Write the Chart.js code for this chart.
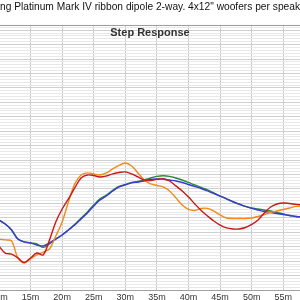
<!DOCTYPE html>
<html>
<head>
<meta charset="utf-8">
<script src="https://cdn.jsdelivr.net/npm/chart.js@4.4.1/dist/chart.umd.min.js"></script>
<style>
html,body{margin:0;padding:0;background:#fff;overflow:hidden;}
canvas{display:block;}
</style>
</head>
<body>
<canvas id="c" width="300" height="300"></canvas>
<script>
// time in ms
const times = [10,11,12,13,14,15,16,17,18,19,20,21,22,23,24,25,26,27,28,29,30,31,32,33,34,35,36,37,38,39,40,41,42,43,44,45,46,47,48,49,50,51,52,53,54,55,56,57,58];
const blueSeries = [4.85,4.57,4.16,3.53,3.33,3.26,3.12,3.05,3.26,3.53,3.81,4.16,4.50,4.92,5.34,5.82,6.24,6.51,6.86,7.14,7.28,7.42,7.48,7.55,7.66,7.69,7.69,7.62,7.55,7.45,7.31,7.17,7.03,6.86,6.69,6.51,6.31,6.13,5.96,5.79,5.65,5.54,5.44,5.37,5.30,5.23,5.16,5.09,5.06];
const greenSeries = [4.85,4.57,4.16,3.53,3.33,3.26,3.19,2.95,3.19,3.53,3.81,4.16,4.55,4.98,5.41,5.89,6.31,6.58,6.90,7.17,7.31,7.45,7.52,7.62,7.76,7.87,7.91,7.87,7.76,7.62,7.45,7.28,7.10,6.93,6.72,6.51,6.31,6.10,5.93,5.79,5.68,5.61,5.54,5.47,5.37,5.27,5.16,5.09,5.06];
const redSeries = [3.05,2.56,2.49,2.22,1.91,2.22,2.56,2.43,3.47,4.71,5.61,6.31,7.07,7.76,7.97,7.93,7.83,7.90,8.04,8.14,8.18,8.04,7.83,7.62,7.59,7.66,7.69,7.55,7.21,6.86,6.44,5.96,5.51,5.13,4.78,4.50,4.30,4.23,4.23,4.33,4.54,4.85,5.34,5.75,5.96,6.03,5.99,5.93,5.89];
const orangeSeries = [3.53,3.47,3.40,2.22,1.87,2.15,2.43,2.63,2.84,3.74,4.71,6.10,7.35,7.97,8.11,8.04,7.97,8.11,8.39,8.63,8.80,8.59,8.11,7.62,7.35,7.24,7.14,6.86,6.38,5.89,5.58,5.51,5.65,5.65,5.47,5.20,4.99,4.95,4.95,4.95,4.99,5.09,5.23,5.37,5.47,5.58,5.68,5.79,5.82];
const xTickValues = [10,15,20,25,30,35,40,45,50,55];
const xTickSuffix = 'm';
const chartTitle = 'ng Platinum Mark IV ribbon dipole 2-way. 4x12" woofers per speak';
const plotTitle = 'Step Response';

const pts = arr => times.map((t,i)=>({x:t,y:arr[i]}));
const ds = (label, arr, color) => ({label, data: pts(arr), borderColor: color, borderWidth: 1.4, pointRadius: 0, tension: 0.35, fill: false});

const innerTitle = {
  id: 'innerTitle',
  afterDraw(chart) {
    const {ctx, chartArea} = chart;
    ctx.save();
    ctx.strokeStyle = '#9a9a9a';
    ctx.lineWidth = 1;
    ctx.beginPath();
    ctx.moveTo(chartArea.left, chartArea.top + 0.5);
    ctx.lineTo(chartArea.right, chartArea.top + 0.5);
    ctx.stroke();
    ctx.fillStyle = '#333';
    ctx.font = 'bold 11px "Liberation Sans", Arial, sans-serif';
    ctx.textAlign = 'center';
    ctx.textBaseline = 'middle';
    ctx.fillText(plotTitle, (chartArea.left + chartArea.right)/2, chartArea.top + 8.5);
    ctx.restore();
  }
};

new Chart(document.getElementById('c'), {
  type: 'line',
  data: {
    datasets: [
      ds('Red', redSeries, '#c81818'),
      ds('Orange', orangeSeries, '#f08a1c'),
      ds('Blue', blueSeries, '#3a3ad0'),
      ds('Green', greenSeries, '#2a8a3a')
    ]
  },
  options: {
    responsive: false,
    animation: false,
    layout: {padding: 0},
    plugins: {
      legend: {display: false},
      tooltip: {enabled: false},
      title: {
        display: true,
        text: chartTitle,
        color: '#111',
        font: {family: '"Liberation Sans", Arial, sans-serif', size: 11.3, weight: 'normal', lineHeight: 1.2},
        padding: {top: 0.6, bottom: 10.8}
      }
    },
    scales: {
      x: {
        type: 'linear',
        min: 10.17,
        max: 57.64,
        afterBuildTicks: axis => { axis.ticks = xTickValues.map(v => ({value: v})); },
        afterFit: axis => { axis.height = 10; axis.paddingLeft = 0; axis.paddingRight = 0; },
        border: {display: true, color: '#a0a0a0', width: 1},
        grid: {color: '#cacaca', lineWidth: 1, drawTicks: false},
        ticks: {
          autoSkip: false,
          maxRotation: 0,
          padding: 2,
          color: '#333',
          font: {family: '"Liberation Sans", Arial, sans-serif', size: 9},
          callback: v => v + xTickSuffix
        }
      },
      y: {
        type: 'linear',
        min: 0,
        max: 18.36,
        afterFit: axis => { axis.width = 0; },
        border: {display: false},
        grid: {
          drawTicks: false,
          lineWidth: 1,
          color: c => {
            const v = c.tick.value;
            return Math.abs(v - Math.round(v)) < 1e-6 ? '#d0d0d0' : '#e8e8e8';
          }
        },
        ticks: {display: false, stepSize: 0.2, maxTicksLimit: 500, includeBounds: false}
      }
    }
  },
  plugins: [innerTitle]
});
</script>
</body>
</html>
